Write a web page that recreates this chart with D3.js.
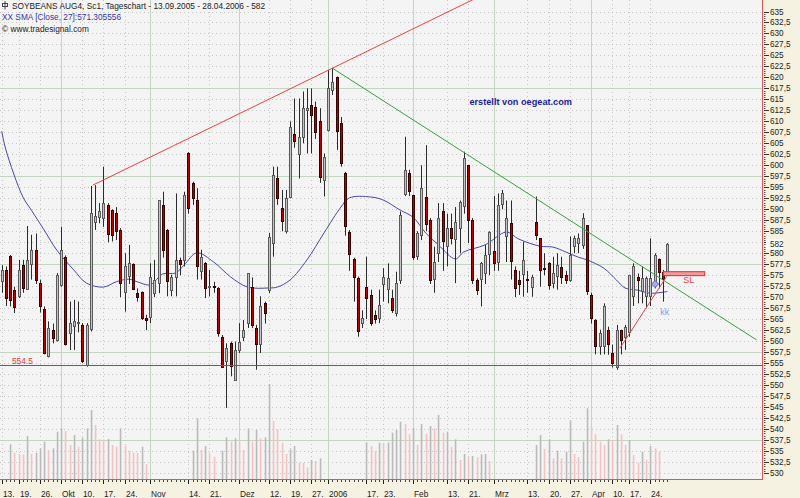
<!DOCTYPE html>
<html><head><meta charset="utf-8">
<script src="https://cdn.jsdelivr.net/npm/d3@7/dist/d3.min.js"></script>
<style>
body{margin:0;background:#f6f2e2;}
svg{display:block;font-family:"Liberation Sans",Arial,sans-serif;}
</style>
</head><body>
<svg id="c" width="800" height="498"></svg>
<script>
// ---------------- DATA ----------------
const title = "SOYBEANS AUG4, Sc1, Tageschart - 13.09.2005 - 28.04.2006 - 582";
const smaTitle = "XX SMA [Close, 27]:571.305556";
const copyright = "© www.tradesignal.com";
const lastPrice = 582;

const openP = [573.6,576.2,579.4,571.7,570.2,577.3,572.0,577.7,580.8,573.2,
567.3,556.5,562.6,560.3,572.8,579.2,561.8,563.3,564.2,563.7,
554.6,562.6,587.2,588.3,588.0,591.0,589.9,589.1,585.3,571.0,
574.7,577.5,571.0,571.1,565.2,565.6,571.0,573.2,591.0,585.3,
571.7,574.7,578.5,578.5,602.7,596.0,592.1,576.0,577.7,572.3,
572.6,572.0,561.0,555.4,559.5,551.2,558.0,561.0,564.1,572.4,
562.9,559.2,568.6,571.7,582.3,597.1,590.2,584.9,592.9,607.1,
602.7,606.5,612.6,613.7,613.3,610.2,596.7,608.0,617.2,620.2,
609.6,598.2,584.9,578.8,574.3,564.0,572.4,570.5,566.0,565.2,
573.2,571.7,569.8,566.4,574.0,593.6,598.2,593.3,579.2,584.2,
592.9,587.6,574.3,580.0,589.5,581.5,585.7,583.4,585.7,590.6,
600.0,587.6,574.0,574.0,575.5,580.0,580.4,578.1,591.0,584.0,
586.8,576.2,574.0,575.4,574.1,572.4,587.2,583.4,576.6,577.7,
573.2,574.7,576.9,575.0,574.0,581.5,582.3,581.9,586.4,570.5,
564.8,558.8,558.8,562.6,557.3,554.2,562.6,561.0,562.2,570.1,
574.7,571.3,570.1,570.1,573.2,578.8,575.8,575.4];
const highP = [577.3,577.0,579.6,572.4,578.5,578.5,586.2,584.2,584.5,574.0,
567.9,564.5,564.0,575.5,586.0,579.5,569.0,569.4,569.0,564.1,
564.1,595.3,595.5,591.4,599.7,591.4,590.0,590.5,585.7,580.0,
581.9,577.7,572.0,571.3,566.0,577.7,578.5,592.1,594.0,585.5,
575.1,593.6,579.0,594.0,603.0,596.3,594.8,580.8,578.0,576.2,
573.5,572.3,561.4,559.5,559.9,559.9,564.1,564.8,575.5,574.5,
563.7,570.2,569.0,584.6,599.7,599.7,594.4,594.4,610.0,615.2,
615.2,616.8,617.5,617.5,614.5,613.0,602.7,621.7,622.1,620.2,
611.0,598.5,585.3,579.0,574.7,567.0,579.2,571.7,567.0,571.7,
576.6,577.7,571.7,575.8,589.5,606.5,599.0,593.3,585.0,600.0,
604.6,588.0,581.5,591.4,591.4,589.0,589.0,590.5,592.0,603.1,
600.0,588.0,574.3,578.0,581.9,585.0,593.0,593.6,594.4,592.0,
592.0,577.0,576.0,582.6,576.0,575.1,592.9,583.4,580.0,578.0,
579.2,580.0,579.2,576.0,583.8,584.0,584.5,589.1,586.4,571.0,
565.0,562.6,568.6,563.3,559.2,563.7,562.6,563.7,575.1,577.7,
575.4,577.0,574.7,583.4,580.0,578.8,576.2,582.3];
const lowP = [571.0,568.0,567.9,566.4,569.8,571.0,571.7,574.0,573.0,566.5,
557.0,556.3,559.5,559.9,572.4,559.0,558.0,558.0,562.0,555.0,
554.2,562.2,585.3,586.8,586.0,582.5,582.7,583.0,570.0,566.7,
573.0,571.6,569.0,564.8,562.5,564.1,570.0,570.9,579.0,570.2,
570.2,570.2,575.0,577.0,589.0,591.0,574.0,574.0,569.8,570.2,
571.0,561.0,554.0,544.8,552.0,551.0,557.3,560.0,563.0,563.0,
553.5,557.3,564.0,570.9,579.2,591.0,585.0,584.5,592.5,604.0,
597.0,605.0,602.7,602.7,606.0,596.0,592.9,607.7,616.0,603.5,
599.7,584.0,576.0,569.0,561.0,563.0,565.0,563.5,564.0,564.1,
569.0,568.6,566.4,565.6,573.0,593.0,593.0,578.5,578.5,583.0,
585.0,573.0,571.0,578.0,576.0,577.0,582.0,573.2,580.0,589.0,
582.3,573.0,570.5,567.9,573.0,575.0,576.0,576.0,590.0,578.0,
574.0,570.0,570.5,570.1,571.0,570.1,583.0,572.4,575.0,571.7,
572.0,571.7,573.0,573.0,573.5,580.0,580.0,581.0,570.5,564.0,
557.0,556.9,557.0,556.9,554.0,553.5,557.0,558.0,561.0,568.0,
568.6,568.6,567.5,568.0,572.0,572.0,569.0,575.0];
const closeP = [576.2,569.8,569.4,567.9,576.2,572.0,578.5,580.8,574.0,567.9,
557.4,562.9,560.7,575.1,580.8,559.5,564.1,564.5,564.4,555.4,
563.7,589.1,588.5,589.6,591.4,584.5,584.2,585.1,573.2,577.0,
577.7,571.8,570.1,565.2,564.8,574.7,574.0,592.1,580.8,573.6,
574.7,578.5,577.7,593.3,590.2,592.5,577.0,579.2,572.0,572.6,
572.4,561.8,554.2,558.4,554.2,558.0,559.9,562.6,575.5,563.7,
559.2,567.9,566.4,583.8,597.8,592.5,587.2,592.5,608.8,605.4,
606.5,613.0,613.0,611.5,607.7,597.4,602.0,617.5,619.0,608.0,
600.5,586.1,580.0,574.7,562.2,565.2,569.8,564.1,565.2,568.2,
574.7,574.3,567.1,573.2,588.7,599.0,594.0,579.2,584.5,594.8,
586.8,574.0,578.1,588.0,582.7,585.7,583.4,587.2,591.7,601.6,
587.6,574.0,571.7,577.7,579.6,584.9,577.7,591.0,593.6,588.0,
578.1,572.0,573.0,578.5,573.8,574.7,584.2,576.2,576.4,572.8,
575.4,577.3,574.7,573.9,579.6,583.4,583.4,588.0,571.3,565.2,
558.8,561.8,567.9,559.5,555.0,562.6,560.3,563.3,575.1,577.0,
574.0,574.3,574.3,574.3,579.6,575.8,574.3,582.0];
// volume (relative units), null = no volume printed
const volume = [null,null,34.7,26.3,25.0,24.5,43.0,25.0,26.3,30.7,
37.3,29.0,30.7,47.3,50.7,48.0,34.0,44.0,32.3,41.3,
50.7,69.0,54.0,39.7,39.5,40.0,34.0,32.3,50.7,33.3,
28.3,26.3,26.0,32.3,14.7,null,null,null,null,null,
null,null,null,null,null,28.3,60.7,29.0,33.0,25.7,
22.3,null,28.3,41.7,37.3,40.7,37.3,29.0,50.7,37.3,
49.0,40.7,41.7,95.0,58.3,49.7,36.3,25.0,29.7,33.0,
16.3,16.0,11.7,19.0,18.0,20.7,null,null,null,null,
null,null,null,null,null,null,36.7,33.0,28.3,36.3,
36.0,36.5,46.3,49.0,57.3,55.0,44.7,50.7,34.0,55.0,
45.0,53.0,50.7,64.0,46.3,47.3,32.3,39.7,19.0,25.0,
21.7,23.0,21.7,24.7,25.0,18.0,null,null,null,null,
null,null,null,null,null,null,34.0,44.0,30.0,39.7,
20.7,28.3,20.7,27.3,58.3,25.0,21.7,37.3,70.7,52.3,
44.7,37.3,34.0,39.7,39.0,54.0,44.7,34.0,39.0,24.0,
16.3,27.3,19.0,33.0,30.7,27.3,null,null];
// SMA(27): [bar index, value]
const smaIdx = [0,1,5,7,10,13,17,20,24,27,30,32,35,38,41,43,46,50,54,58,63,65,68,72,76,80,82,87,90,94,97,100,103,107,109,114,119,122,127,130,133,136,138,142,145,147,150,153,157];
const smaVal = [607.8,603.5,592.8,589.8,585.3,580.7,576.2,573.2,572.3,573.5,574.1,573.5,572.8,575.3,575.5,577.3,580.1,578.0,574.6,572.3,572.1,572.3,573.9,578.5,584.6,590.5,592.6,592.8,592.1,589.8,588.2,584.6,581.9,578.7,580.3,581.9,584.8,583.2,581.6,581.4,580.3,579.1,578.5,576.6,573.9,572.1,571.6,570.9,571.3];
// x axis
const xTickIdx = [0,4,9,14,19,24,29,35,44,49,56,63,68,73,77,86,90,97,105,110,116,124,129,134,139,144,148,153];
const xTickLabels = ["13.","19.","26.","Okt","10.","17.","24.","Nov","14.","21.","Dez","12.","19.","27.","2006","17.","23.","Feb","13.","21.","Mrz","13.","20.","27.","Apr","10.","17.","24."];
const monthLabels = ["Okt","Nov","Dez","2006","Feb","Mrz","Apr"];
// y axis
const yTicks = [530,532.5,535,537.5,540,542.5,545,547.5,550,552.5,555,557.5,560,562.5,565,567.5,570,572.5,575,577.5,580,582.5,585,587.5,590,592.5,595,597.5,600,602.5,605,607.5,610,612.5,615,617.5,620,622.5,625,627.5,630,632.5,635];
const ySolid = [537.5,557.5,577.5,597.5,617.5];
// drawings
const supportLevel = 554.5;
const upperTrend = [[21.5,595.5],[78,622.1]];
const downTrend = [[78,622.1],[178,560.3]];
const riseTrend = [[145.8,558.4],[156.8,574.7]];
const slBox = [156,165.8,575.8,574.9];   // i0,i1,pTop,pBottom
const slText = "SL";
const markIdx = 154.1, markPrice = 573.0;
const kkText = "kk", kkIdx = 155.3, kkPrice = 565.9;
const creditText = "erstellt von oegeat.com", creditIdx = 110.3, creditPrice = 613.8;

// ---------------- CHART ----------------
const W=800,H=498,PR=762,PB=479;
const svg=d3.select("#c");
svg.append("rect").attr("width",W).attr("height",H).attr("fill","#f6f2e2");
svg.append("rect").attr("width",PR).attr("height",PB).attr("fill","#f4f4f4");
svg.append("defs").append("clipPath").attr("id","clip").append("rect").attr("width",PR).attr("height",PB);

const x=d3.scaleLinear().domain([0,157]).range([1.7,667.4]);
const y=d3.scaleLinear().domain([530,635]).range([473,11.5]);
const yv=d3.scaleLinear().domain([0,100]).range([PB,PB-100]);
const px=i=>Math.round(x(i));
const py=v=>Math.round(y(v))+0.5;

const n=closeP.length;
const bars=d3.range(n).map(i=>({i,o:openP[i],h:highP[i],l:lowP[i],c:closeP[i],v:volume[i]}));

const plot=svg.append("g").attr("clip-path","url(#clip)");
// horizontal grid
plot.append("g").selectAll("line").data(yTicks).join("line")
 .attr("x1",0).attr("x2",PR).attr("y1",d=>py(d)).attr("y2",d=>py(d))
 .attr("stroke",d=>ySolid.includes(d)?"#c3d6c0":"#c6c6c6")
 .attr("stroke-dasharray",d=>ySolid.includes(d)?null:"1,3");
// vertical grid
plot.append("g").selectAll("line").data(xTickIdx).join("line")
 .attr("x1",d=>px(d)+0.5).attr("x2",d=>px(d)+0.5).attr("y1",0).attr("y2",PB)
 .attr("stroke",(d,k)=>monthLabels.includes(xTickLabels[k])?"#c3d6c0":"#c6c6c6")
 .attr("stroke-dasharray",(d,k)=>monthLabels.includes(xTickLabels[k])?null:"1,3");

// volume
plot.append("g").selectAll("rect").data(bars.filter(b=>b.v!=null)).join("rect")
 .attr("x",d=>px(d.i)-0.25).attr("width",1.6)
 .attr("y",d=>yv(d.v)).attr("height",d=>PB-yv(d.v))
 .attr("fill",d=>{const p=d.i>0?volume[d.i-1]:null;return (p==null||d.v>p)?"#bababa":"#f4c2c2";});

// SMA
plot.append("path").datum(smaIdx.map((d,k)=>[d,smaVal[k]]))
 .attr("d",d3.line().x(d=>x(d[0])).y(d=>y(d[1])).curve(d3.curveCatmullRom))
 .attr("fill","none").attr("stroke","#4848a8").attr("stroke-width",1);

// candles
const cg=plot.append("g").selectAll("g").data(bars).join("g");
cg.append("line").attr("x1",d=>px(d.i)+0.5).attr("x2",d=>px(d.i)+0.5)
 .attr("y1",d=>y(d.h)).attr("y2",d=>y(d.l)).attr("stroke","#2a2a2a").attr("stroke-width",1);
cg.append("rect").attr("x",d=>px(d.i)-0.5).attr("width",2)
 .attr("y",d=>Math.round(y(Math.max(d.o,d.c)))+0.5)
 .attr("height",d=>Math.max(1,Math.round(Math.abs(y(d.o)-y(d.c)))))
 .attr("fill",d=>d.c>=d.o?"#c4c4c4":"#b80000")
 .attr("stroke",d=>d.c>=d.o?"#5a5a5a":"#3a0000").attr("stroke-width",1);

// support line
plot.append("line").attr("x1",0).attr("x2",PR).attr("y1",py(supportLevel)).attr("y2",py(supportLevel))
 .attr("stroke","#e82828").attr("stroke-width",1);
svg.append("text").attr("x",12).attr("y",py(supportLevel)-2).attr("font-size",8.3).attr("fill","#e03a3a").text(String(supportLevel));

// trend lines
function ext(seg,toTop){const [a,b]=seg;const s=(b[1]-a[1])/(b[0]-a[0]);
 if(!toTop) return seg; const pTop=y.invert(-2); return [a,[a[0]+(pTop-a[1])/s,pTop]];}
const ln=d3.line().x(d=>x(d[0])).y(d=>y(d[1]));
plot.append("path").attr("d",ln(ext(upperTrend,true))).attr("stroke","#f04040").attr("fill","none");
plot.append("path").attr("d",ln(downTrend)).attr("stroke","#3aa03a").attr("fill","none");
plot.append("path").attr("d",ln(riseTrend)).attr("stroke","#f04040").attr("fill","none");
// SL box
plot.append("rect").attr("x",x(slBox[0])).attr("y",y(slBox[2])).attr("width",x(slBox[1])-x(slBox[0]))
 .attr("height",y(slBox[3])-y(slBox[2])).attr("fill","#f39a9a").attr("stroke","#e03030");
svg.append("text").attr("x",x(slBox[0])+20).attr("y",y(slBox[3])+7).attr("font-size",9).attr("fill","#f04040").text(slText);
// marker
const mx=x(markIdx),my=y(markPrice);
svg.append("path").attr("d",`M${mx},${my-3.5}L${mx+3.5},${my}L${mx},${my+3.5}L${mx-3.5},${my}Z`)
 .attr("fill","#a4acf4").attr("stroke","#5a64c8");
svg.append("text").attr("x",x(kkIdx)).attr("y",y(kkPrice)).attr("font-size",9).attr("fill","#9098f0").text(kkText);
// credit
svg.append("text").attr("x",x(creditIdx)).attr("y",y(creditPrice)).attr("font-size",9.2).attr("font-weight","bold")
 .attr("fill","#1c1c9c").text(creditText);

// borders
svg.append("line").attr("x1",PR+0.5).attr("x2",PR+0.5).attr("y1",0).attr("y2",PB+1).attr("stroke","#e85050");
svg.append("line").attr("x1",0).attr("x2",PR+1).attr("y1",PB+0.5).attr("y2",PB+0.5).attr("stroke","#e85050");

// right axis
const ax=svg.append("g");
ax.selectAll("line.mi").data(d3.range(530,635.01,0.5)).join("line").attr("class","mi")
 .attr("x1",764).attr("x2",765.5).attr("y1",d=>py(d)).attr("y2",d=>py(d)).attr("stroke","#555");
ax.selectAll("line.ma").data(yTicks).join("line").attr("class","ma")
 .attr("x1",764).attr("x2",769).attr("y1",d=>py(d)).attr("y2",d=>py(d)).attr("stroke","#333");
ax.selectAll("text").data(yTicks.filter(v=>Math.abs(y(v)-y(lastPrice))>5)).join("text")
 .attr("x",770).attr("y",d=>y(d)+3).attr("font-size",8.2).attr("fill","#222")
 .text(d=>d%1?String(d).replace(".",","):String(d));
ax.append("rect").attr("x",766).attr("y",y(lastPrice)-5).attr("width",17).attr("height",10).attr("fill","#ffffff");
ax.append("text").attr("x",770).attr("y",y(lastPrice)+3).attr("font-size",8.2).attr("fill","#222").text(String(lastPrice));

// bottom axis
const bx=svg.append("g");
bx.selectAll("line.d").data(d3.range(n)).join("line").attr("class","d")
 .attr("x1",d=>px(d)+0.5).attr("x2",d=>px(d)+0.5).attr("y1",PB+1).attr("y2",PB+3).attr("stroke","#444");
bx.selectAll("line.t").data(xTickIdx).join("line").attr("class","t")
 .attr("x1",d=>px(d)+0.5).attr("x2",d=>px(d)+0.5).attr("y1",PB+1).attr("y2",PB+5).attr("stroke","#222");
bx.selectAll("text").data(xTickIdx).join("text")
 .attr("x",d=>px(d)+1).attr("y",496.5).attr("font-size",8.3).attr("fill","#222").text((d,k)=>xTickLabels[k]);

// header
const hd=svg.append("g");
hd.append("rect").attr("x",2.5).attr("y",3.5).attr("width",5).attr("height",3).attr("fill","none").attr("stroke","#444");
hd.append("line").attr("x1",5).attr("x2",5).attr("y1",1).attr("y2",9.5).attr("stroke","#444");
hd.append("text").attr("x",12).attr("y",9.3).attr("font-size",8.3).attr("fill","#222").text(title);
hd.append("text").attr("x",2).attr("y",19.5).attr("font-size",8.3).attr("fill","#3434a4").text(smaTitle);
hd.append("text").attr("x",2).attr("y",31.5).attr("font-size",8.3).attr("fill","#222").text(copyright);
</script>
</body></html>
